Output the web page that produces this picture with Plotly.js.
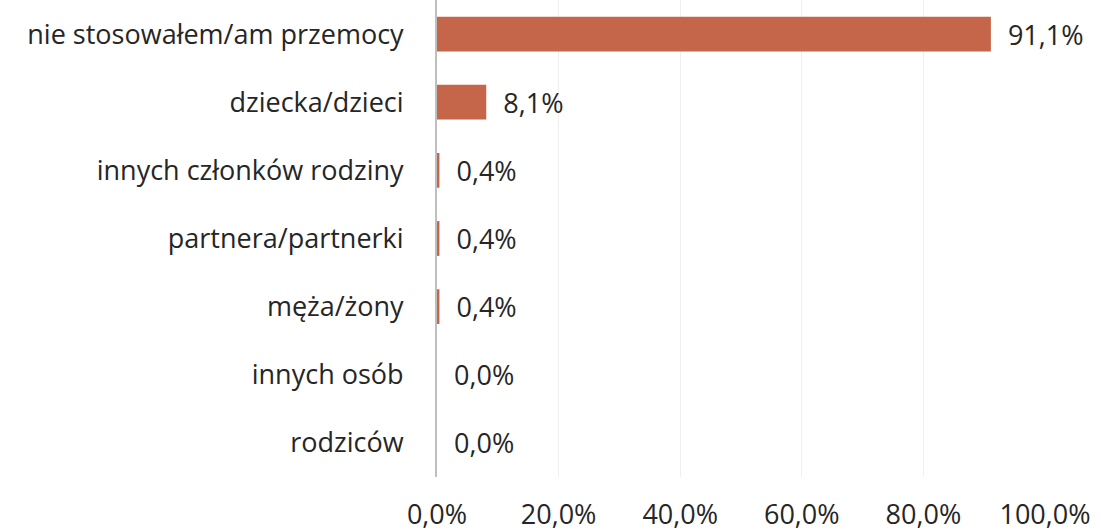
<!DOCTYPE html>
<html>
<head>
<meta charset="utf-8">
<script src="https://cdn.plot.ly/plotly-3.0.1.min.js"></script>
<style>html,body{margin:0;padding:0;background:#fff;}#chart{width:1101px;height:532px;}</style>
</head>
<body>
<div id="chart"></div>
<script>
const categories = ["nie stosowałem/am przemocy", "dziecka/dzieci", "innych członków rodziny", "partnera/partnerki", "męża/żony", "innych osób", "rodziców"];
const values = [91.1, 8.1, 0.4, 0.4, 0.4, 0.0, 0.0];
const tickValues = [0, 20, 40, 60, 80, 100];
const tickLabels = ["0,0%", "20,0%", "40,0%", "60,0%", "80,0%", "100,0%"];

const FONT = "Open Sans, sans-serif";
const trace = {
  type: "bar",
  orientation: "h",
  y: categories,
  x: values,
  marker: {color: "#C5654A"},
  texttemplate: "\u00a0\u00a0%{x:.1f}%",
  textposition: "outside",
  constraintext: "none",
  cliponaxis: false,
  textfont: {family: FONT, size: 27, color: "#262626"},
  hoverinfo: "none"
};
const layout = {
  width: 1101, height: 532,
  margin: {l: 437, r: 56, t: 0, b: 55},
  separators: ", ",
  showlegend: false,
  bargap: 0.49,
  paper_bgcolor: "#ffffff",
  plot_bgcolor: "#ffffff",
  font: {family: FONT, size: 27, color: "#262626"},
  xaxis: {
    range: [0, 100],
    tickmode: "array",
    tickvals: tickValues,
    ticktext: tickLabels,
    showgrid: true,
    gridcolor: "#EFEFEF",
    gridwidth: 1,
    zeroline: false,
    showline: false,
    ticks: "",
    ticklabelstandoff: 19,
    fixedrange: true
  },
  yaxis: {
    autorange: "reversed",
    showline: true,
    linecolor: "#BFBFBF",
    linewidth: 2,
    showgrid: false,
    zeroline: false,
    ticks: "",
    ticklabelstandoff: 26,
    fixedrange: true
  }
};
Plotly.newPlot("chart", [trace], layout, {displayModeBar: false, staticPlot: true});
</script>
</body>
</html>
